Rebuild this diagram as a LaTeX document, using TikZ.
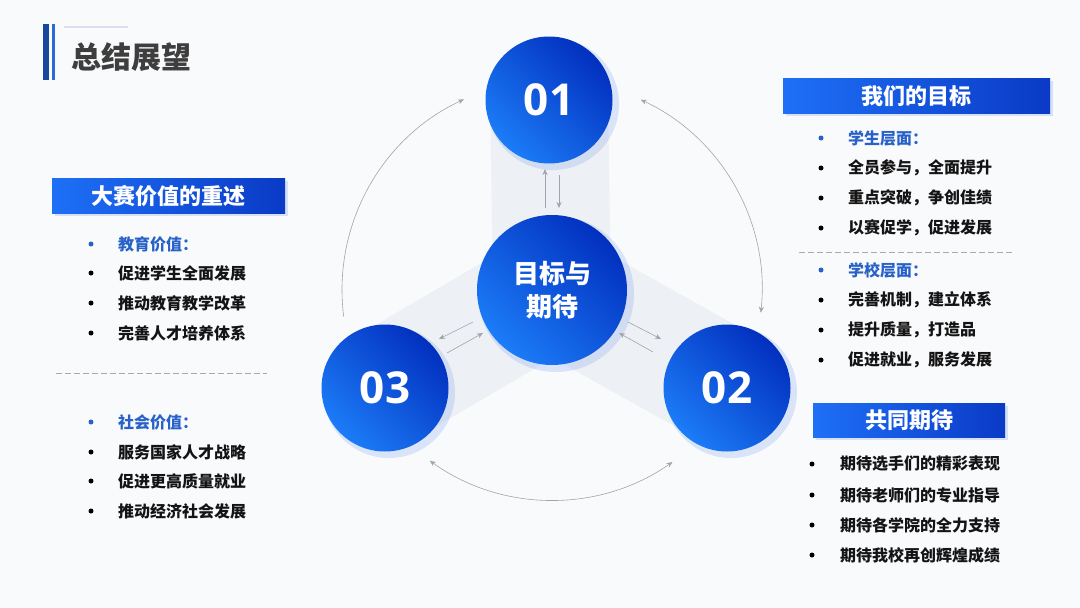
\documentclass[tikz,border=0pt]{standalone}
\usepackage{fontspec}
\newfontfamily\cjk{Noto Sans CJK SC}
\newfontfamily\numf{Open Sans}
\usetikzlibrary{arrows.meta}
\definecolor{bgc}{RGB}{249,250,252}
\definecolor{bandc}{RGB}{233,236,242}
\definecolor{hdrL}{RGB}{30,112,246}
\definecolor{hdrR}{RGB}{10,58,198}
\definecolor{cirL}{RGB}{28,124,248}
\definecolor{cirR}{RGB}{2,48,190}
\definecolor{subc}{RGB}{40,98,200}
\definecolor{textc}{RGB}{20,20,20}
\definecolor{titlec}{RGB}{62,62,62}
\definecolor{barA}{RGB}{24,72,156}
\definecolor{barB}{RGB}{44,108,210}
\definecolor{arrc}{RGB}{160,164,172}
\definecolor{dashc}{RGB}{170,170,170}
\definecolor{glowc}{RGB}{110,150,235}
\begin{document}
\begin{tikzpicture}[x=1pt,y=-1pt,
  hdr/.style={anchor=north west, minimum height=35pt, inner sep=0pt, left color=hdrL, right color=hdrR, text=white, font=\cjk\bfseries\fontsize{22}{26}\selectfont},
  hdrshadow/.style={fill=glowc, opacity=0.25},
  item/.style={anchor=west, inner sep=0pt, text=textc, font=\cjk\bfseries\fontsize{16}{19}\selectfont},
  subitem/.style={item, text=subc},
  bk/.style={circle, fill=black, inner sep=0pt, minimum size=5pt},
  bb/.style={circle, fill=subc, inner sep=0pt, minimum size=5pt},
  sat/.style={circle, minimum size=127pt, inner sep=0pt, left color=cirL, right color=cirR, shading angle=135, text=white, font=\numf\bfseries\fontsize{44}{50}\selectfont},
  glow/.style={fill=glowc, opacity=0.22},
  sarr/.style={draw=arrc, line width=0.6pt, -{Stealth[length=6pt,width=5pt]}},
  darr/.style={draw=arrc, line width=0.6pt, {Stealth[length=6pt,width=5pt]}-{Stealth[length=6pt,width=5pt]}},
  dline/.style={draw=dashc, line width=1pt, dash pattern=on 6pt off 3pt}
]
\useasboundingbox (0,0) rectangle (1080,608);
\fill[bgc] (0,0) rectangle (1080,608);

% title
\fill[barA] (43,24) rectangle (49,80);
\fill[barB] (52,24) rectangle (55,80);
\draw[line width=2pt, draw={rgb,255:red,218;green,222;blue,238}] (64,27) -- (128,27);
\node[anchor=west, inner sep=0pt, text=titlec, font=\cjk\bfseries\fontsize{30}{34}\selectfont] (title) at (71,57) {总结展望};

% central coordinates
\coordinate (cc) at (552,290);
\coordinate (p1) at (549,100);
\coordinate (p3) at (385,388);
\coordinate (p2) at (727,388);

% bands
\foreach \p in {p1,p2,p3}
  \draw[bandc, line width=118pt, opacity=0.7] (cc) -- (\p);

% outer arcs
\draw[draw=arrc, line width=0.6pt, -{Stealth[length=6pt,width=5pt]}] ([shift={(172.7:210)}]cc) arc[start angle=172.7, end angle=245.2, radius=210];
\draw[darr] ([shift={(295:210)}]cc) arc[start angle=295, end angle=366.2, radius=210];
\draw[darr] ([shift={(55:210)}]cc) arc[start angle=55, end angle=125.6, radius=210];

% glows
\fill[glow] (553,104) circle (66);
\fill[glow] (389,392) circle (66);
\fill[glow] (731,392) circle (66);
\fill[glow] (556,294) circle (78);

% circles
\node[sat] (n1) at (p1) {01};
\node[sat] (n3) at (p3) {03};
\node[sat] (n2) at (p2) {02};
\node[sat, minimum size=150pt, font=\cjk\bfseries\fontsize{26}{33}\selectfont, align=center] (nc) at (cc) {目标与\\期待};

% small arrows
\coordinate (a1s) at (545,208); \coordinate (a1e) at (545,169);
\coordinate (b1s) at (559,175); \coordinate (b1e) at (559,208);
\draw[sarr] (a1s) -- (a1e);
\draw[sarr] (b1s) -- (b1e);
\coordinate (a3s) at (473,322); \coordinate (a3e) at (439,339);
\coordinate (b3s) at (447,353); \coordinate (b3e) at (483,333);
\draw[sarr] (a3s) -- (a3e);
\draw[sarr] (b3s) -- (b3e);
\coordinate (a2s) at (628,322); \coordinate (a2e) at (661,339);
\coordinate (b2s) at (653,352); \coordinate (b2e) at (619,333);
\draw[sarr] (a2s) -- (a2e);
\draw[sarr] (b2s) -- (b2e);

% left panel
\fill[hdrshadow] (55,181) rectangle (288,216);
\node[hdr, minimum width=233pt] (hL) at (52,178) {大赛价值的重述};
\node[bb] (dL1) at (91,244) {}; \node[subitem] (tL1) at (118,244) {教育价值：};
\node[bk] (dL2) at (91,273) {}; \node[item] (tL2) at (118,273) {促进学生全面发展};
\node[bk] (dL3) at (91,303) {}; \node[item] (tL3) at (118,303) {推动教育教学改革};
\node[bk] (dL4) at (91,333) {}; \node[item] (tL4) at (118,333) {完善人才培养体系};
\coordinate (dlA) at (56,373); \coordinate (dlB) at (267,373);
\draw[dline] (dlA) -- (dlB);
\node[bb] (dL5) at (91,422) {}; \node[subitem] (tL5) at (118,422) {社会价值：};
\node[bk] (dL6) at (91,452) {}; \node[item] (tL6) at (118,452) {服务国家人才战略};
\node[bk] (dL7) at (91,481) {}; \node[item] (tL7) at (118,481) {促进更高质量就业};
\node[bk] (dL8) at (91,511) {}; \node[item] (tL8) at (118,511) {推动经济社会发展};

% right panel top
\fill[hdrshadow] (786,81) rectangle (1053,116);
\node[hdr, minimum width=267pt] (hR) at (783,78) {我们的目标};
\node[bb] (dR1) at (821,138) {}; \node[subitem] (tR1) at (848,138) {学生层面：};
\node[bk] (dR2) at (821,168) {}; \node[item] (tR2) at (848,168) {全员参与，全面提升};
\node[bk] (dR3) at (821,198) {}; \node[item] (tR3) at (848,198) {重点突破，争创佳绩};
\node[bk] (dR4) at (821,228) {}; \node[item] (tR4) at (848,228) {以赛促学，促进发展};
\coordinate (drA) at (799,252); \coordinate (drB) at (1012,252);
\draw[dline] (drA) -- (drB);
\node[bb] (dR5) at (821,270) {}; \node[subitem] (tR5) at (848,270) {学校层面：};
\node[bk] (dR6) at (821,300) {}; \node[item] (tR6) at (848,300) {完善机制，建立体系};
\node[bk] (dR7) at (821,330) {}; \node[item] (tR7) at (848,330) {提升质量，打造品};
\node[bk] (dR8) at (821,360) {}; \node[item] (tR8) at (848,360) {促进就业，服务发展};

% right panel bottom
\fill[hdrshadow] (816,406) rectangle (1008,440);
\node[hdr, minimum width=192pt, minimum height=34pt] (hB) at (813,403) {共同期待};
\node[bk] (dB1) at (812,464) {}; \node[item] (tB1) at (840,464) {期待选手们的精彩表现};
\node[bk] (dB2) at (812,495) {}; \node[item] (tB2) at (840,495) {期待老师们的专业指导};
\node[bk] (dB3) at (812,525) {}; \node[item] (tB3) at (840,525) {期待各学院的全力支持};
\node[bk] (dB4) at (812,555) {}; \node[item] (tB4) at (840,555) {期待我校再创辉煌成绩};
\end{tikzpicture}
\end{document}
